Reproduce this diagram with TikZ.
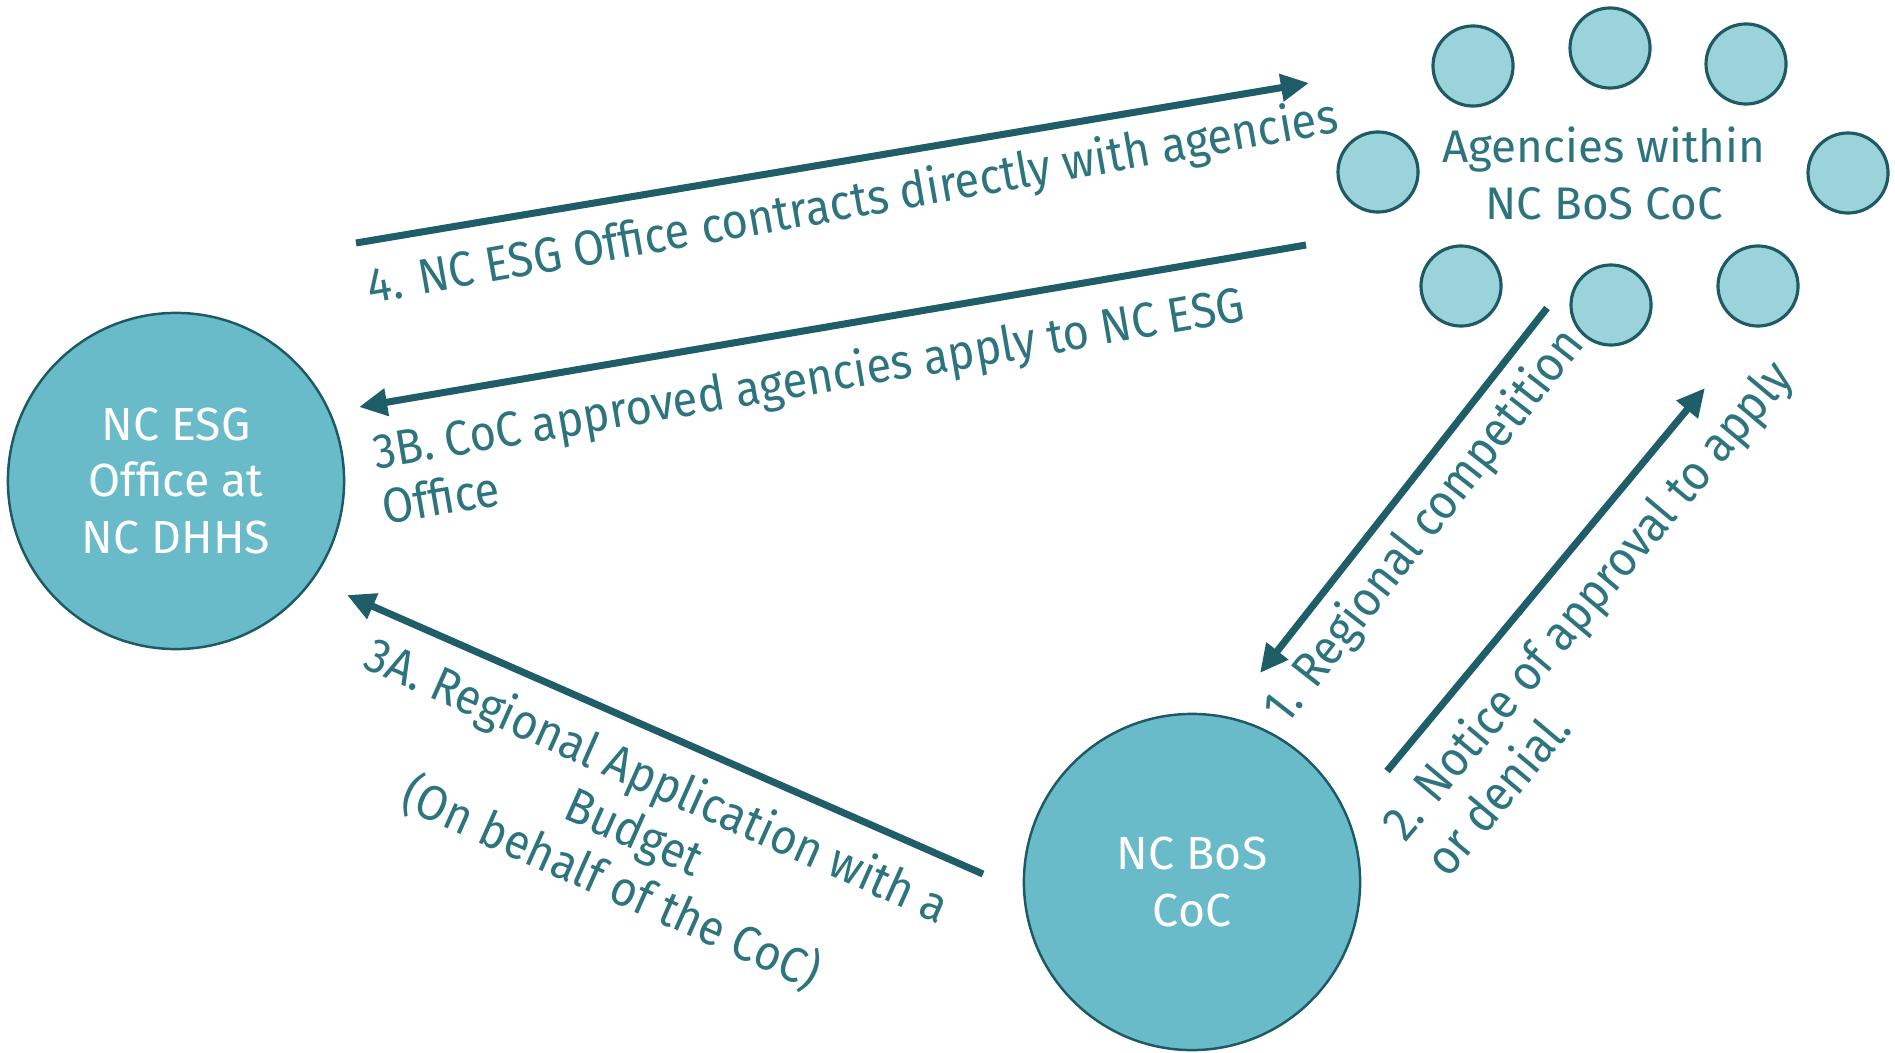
\documentclass[tikz,border=0pt]{standalone}
\usepackage{fontspec}
\setmainfont{Fira Sans}
\newfontfamily\lblfont[FakeStretch=0.92]{Fira Sans}
\usetikzlibrary{arrows.meta}
\definecolor{bigfill}{RGB}{105,187,201}
\definecolor{smallfill}{RGB}{155,211,219}
\definecolor{edgecol}{RGB}{30,90,99}
\definecolor{arrowcol}{RGB}{31,94,104}
\definecolor{txtcol}{RGB}{45,116,127}

\begin{document}
\begin{tikzpicture}[x=0.01cm,y=-0.01cm,
    bigcirc/.style={circle,draw=edgecol,fill=bigfill,line width=0.7pt,minimum size=3.36cm,
      inner sep=0pt,text=white,align=center,font=\fontsize{13.2}{16}\selectfont},
    agency/.style={circle,draw=edgecol,fill=smallfill,line width=0.9pt,minimum size=0.8cm,inner sep=0pt},
    flow/.style={draw=arrowcol,line width=2pt,-{Triangle[length=8pt,width=7.5pt]}},
    lbl/.style={text=txtcol,inner sep=0pt,font=\lblfont\fontsize{14}{16}\selectfont}]
    \useasboundingbox (0,0) rectangle (1895,1052);
    % main bodies
    \node [bigcirc] (esg) at (176,481) {NC ESG\\Office at\\NC DHHS};
    \node [bigcirc] (bos) at (1192,882) {NC BoS\\CoC};
    % agencies
    \node [agency] (a1) at (1473,66) {};
    \node [agency] (a2) at (1610,48) {};
    \node [agency] (a3) at (1746,64) {};
    \node [agency] (a4) at (1378,172) {};
    \node [agency] (a5) at (1848,173) {};
    \node [agency] (a6) at (1461,286) {};
    \node [agency] (a7) at (1611,305) {};
    \node [agency] (a8) at (1758,286) {};
    \node [text=txtcol,align=center,font=\fontsize{13}{16.2}\selectfont] (agtxt) at (1604,173) {Agencies within\\NC BoS CoC};
    % arrow ends
    \coordinate (p4s) at (356,243);
    \coordinate (p4e) at (1309,83);
    \coordinate (p3bs) at (1306,245);
    \coordinate (p3be) at (359,407);
    \coordinate (p1s) at (1547,308);
    \coordinate (p1e) at (1260,673);
    \coordinate (p2s) at (1387,771);
    \coordinate (p2e) at (1705,388);
    \coordinate (p3as) at (983,874);
    \coordinate (p3ae) at (347,595);
    % arrows
    \draw [flow] (p1s) -- (p1e);
    \draw [flow] (p2s) -- (p2e);
    \draw [flow] (p3as) -- (p3ae);
    \draw [flow] (p3bs) -- (p3be);
    \draw [flow] (p4s) -- (p4e);
    % labels
    \node [lbl,rotate=52] (l1) at (1425,527) {1. Regional competition};
    \node [lbl,rotate=50,align=left] (l2) at (1607,617) {2. Notice of approval to apply\\or denial.};
    \node [lbl,rotate=-24,align=center] (l3a) at (634,833) {3A. Regional Application with a\\Budget\\(On behalf of the CoC)};
    \node [lbl,rotate=9.7,align=left] (l3b) at (813,404) {3B. CoC approved agencies apply to NC ESG\\Office};
    \node [lbl,rotate=10] (l4) at (853,204) {4. NC ESG Office contracts directly with agencies};
\end{tikzpicture}
\end{document}
